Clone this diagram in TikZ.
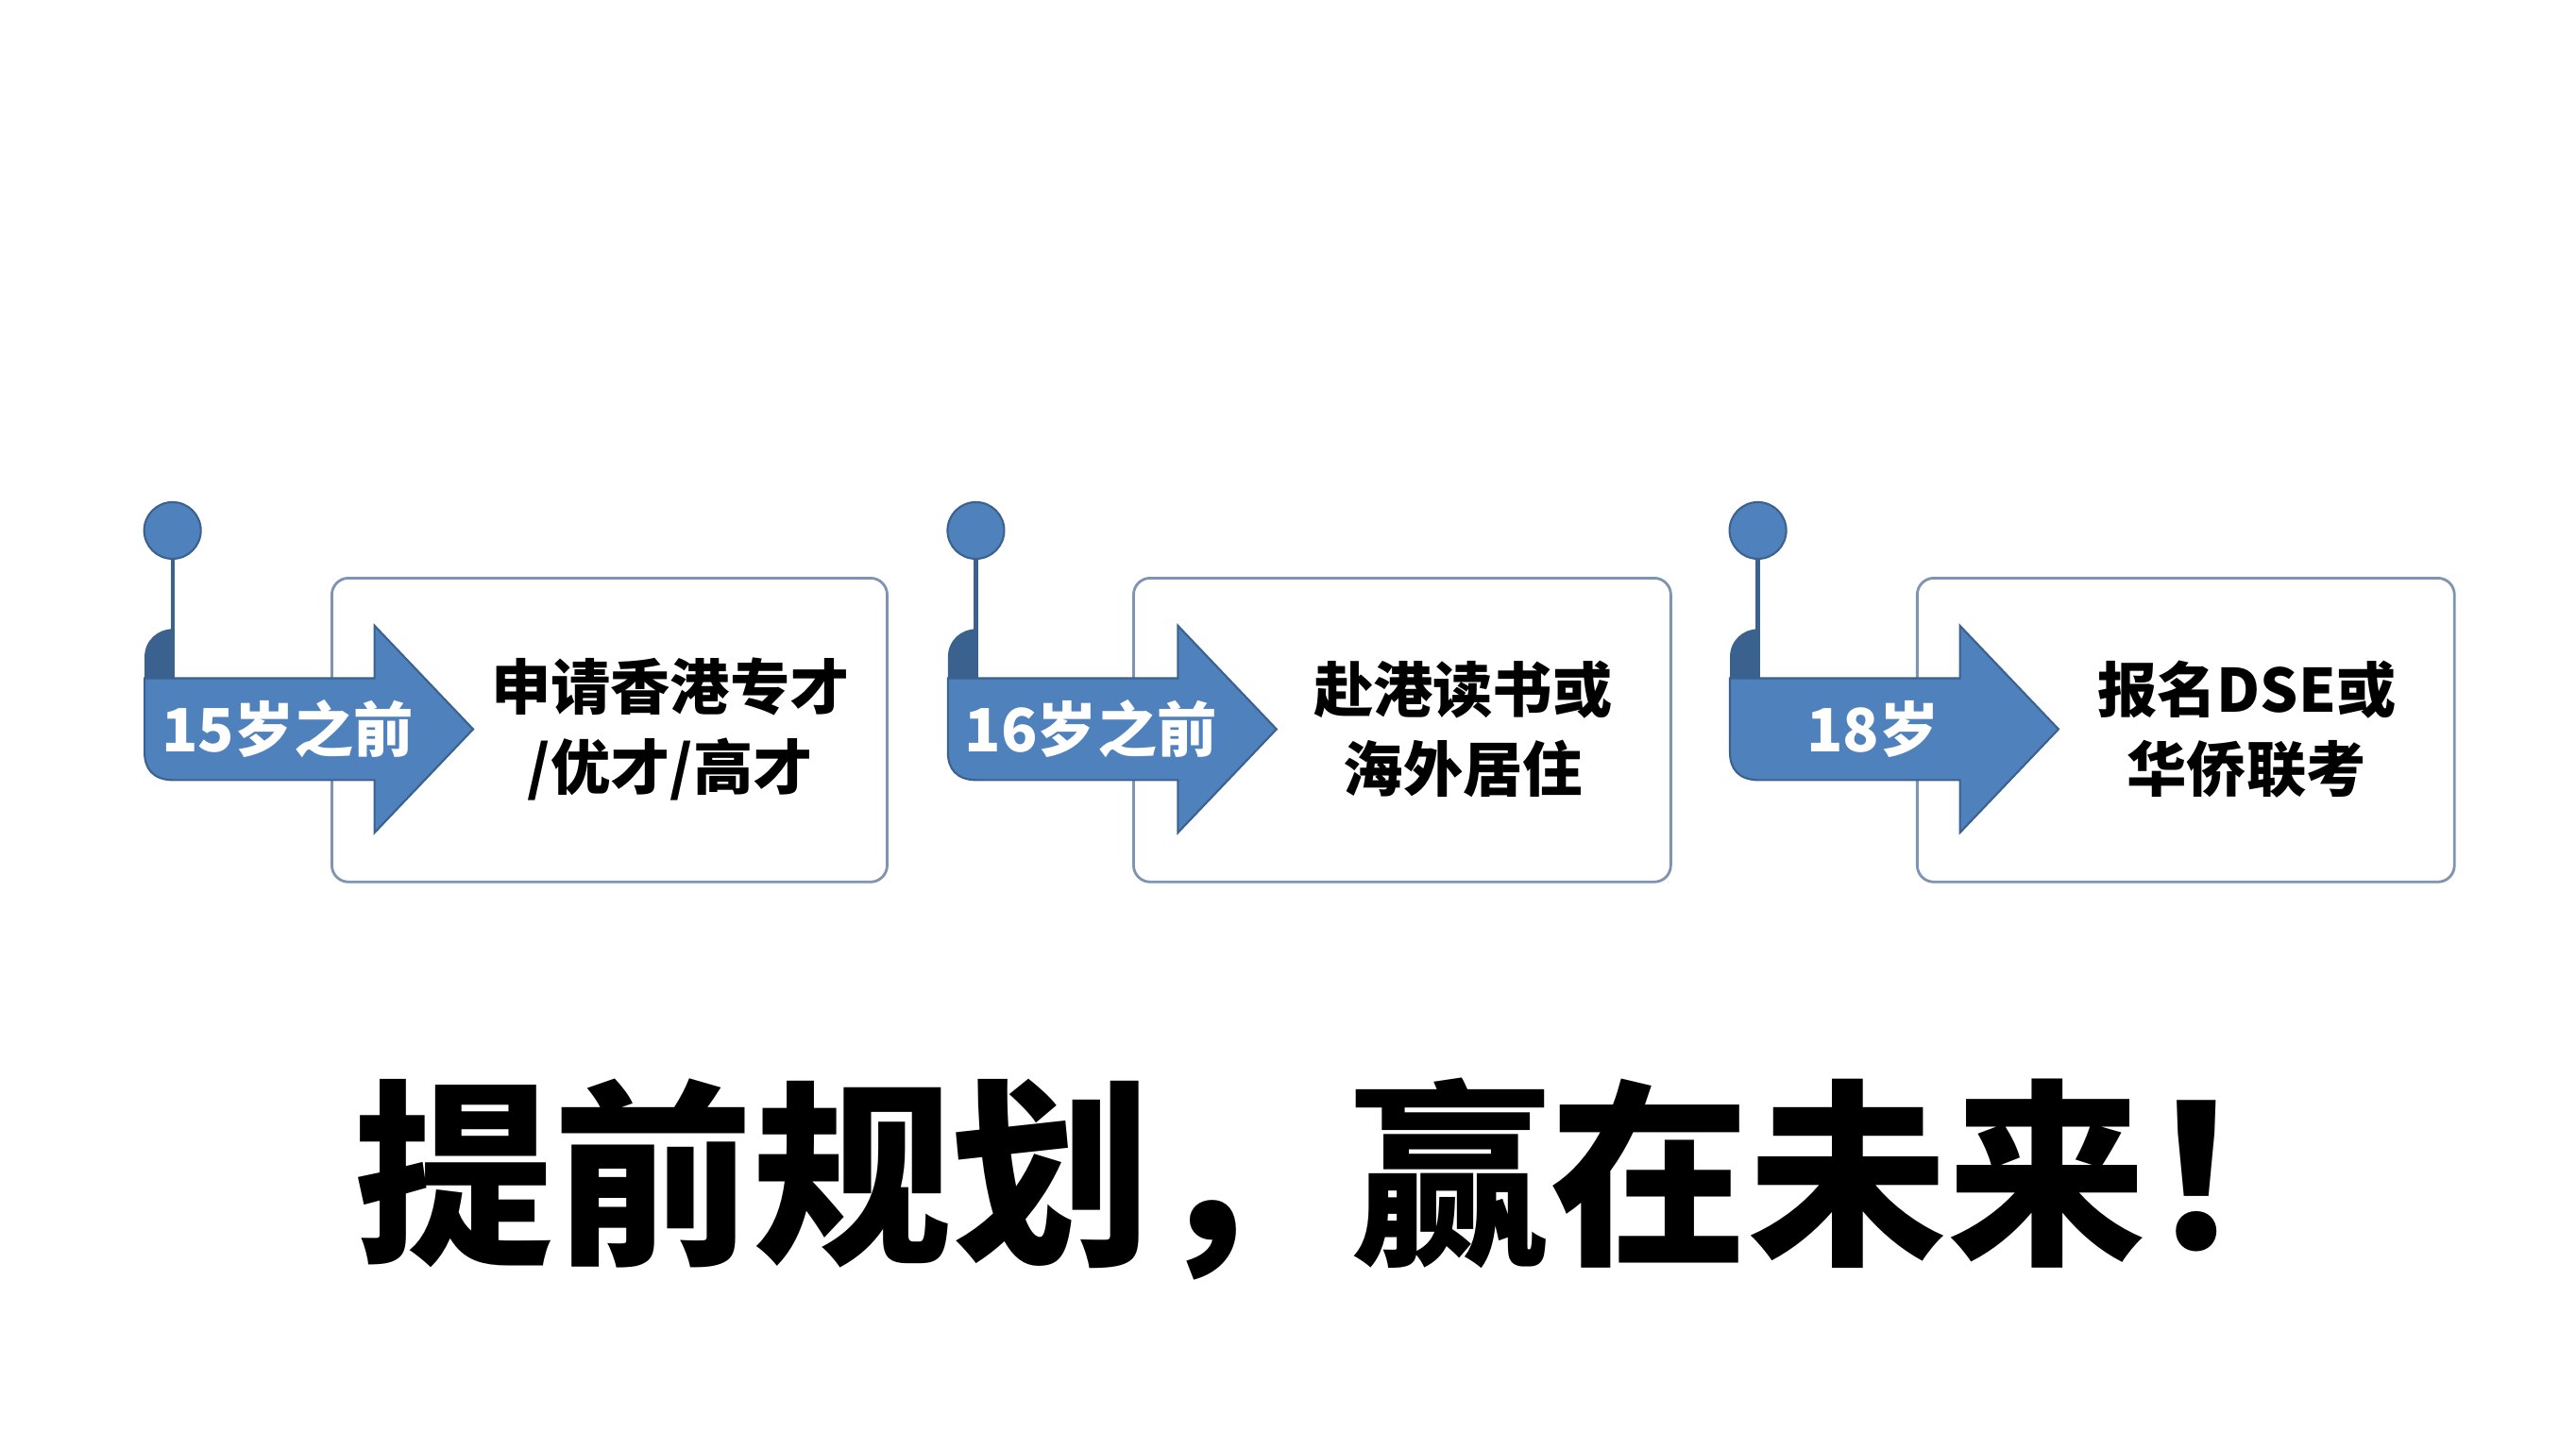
\documentclass[tikz,border=0pt]{standalone}
\usepackage{fontspec}
\setmainfont{Noto Sans CJK SC}
\usetikzlibrary{positioning}
\definecolor{stepblue}{HTML}{4F81BD}
\definecolor{stepdark}{HTML}{3B618F}
\definecolor{boxline}{HTML}{7F93B2}
\tikzset{
  boxframe/.style={draw=boxline, line width=0.8pt, fill=white, rounded corners=5pt},
  steplabel/.style={text=white, font=\fontsize{18}{21}\selectfont\bfseries},
  boxtext/.style={align=center, font=\fontsize{18}{24}\selectfont\bfseries},
  title/.style={font=\fontsize{60}{62}\selectfont\bfseries}
}
\begin{document}
\begin{tikzpicture}[x=0.0174cm, y=-0.0174cm]
  \useasboundingbox (0,0) rectangle (1568,882);
  \foreach \a/\bl/\br/\lab/\txt/\nm in {
      88/202/540/15岁之前/{申请香港专才\\/优才/高才}/one,
      577/690/1017/16岁之前/{赴港读书或\\海外居住}/two,
      1053/1167/1494/18岁/{报名DSE或\\华侨联考}/three} {
    % text box behind the arrow
    \draw [boxframe] (\bl,352) rectangle (\br,537);
    \node [boxtext] (\nm text) at ({(\bl+\br)/2+37},444) {\txt};
    % curl of the ribbon
    \fill [stepdark] (\a,413) -- (\a,400) .. controls (\a,390) and (\a+8,383) .. (\a+17,383) -- (\a+17,413) -- cycle;
    % arrow body
    \draw [fill=stepblue, draw=stepdark, line width=0.6pt]
      (\a,413) -- (\a+140,413) -- (\a+140,381) -- (\a+200,444) -- (\a+140,507)
      -- (\a+140,475) -- (\a+18,475) .. controls (\a+5,475) and (\a,468) .. (\a,458) -- cycle;
    \node [steplabel] (\nm label) at (\a+87,444) {\lab};
    % pin
    \node [circle, fill=stepblue, draw=stepdark, line width=0.6pt, minimum size=0.6cm, inner sep=0pt] (\nm pin) at (\a+17,323) {};
    \coordinate (\nm foot) at (\a+17,413);
    \draw [stepdark, line width=1.2pt] (\nm pin.south) -- (\nm foot);
  }
  \node [title] (slogan) at (822,718) {提前规划，赢在未来！};
\end{tikzpicture}
\end{document}
